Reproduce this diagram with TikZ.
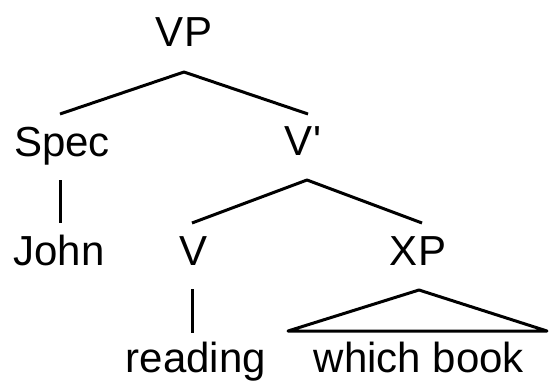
\documentclass[tikz,border=0pt]{standalone}
\usepackage{fontspec}
\setmainfont{Liberation Sans}
\begin{document}
\begin{tikzpicture}[x=1pt,y=-1pt,
  lbl/.style={inner sep=0pt,anchor=base,font=\fontsize{42}{50}\selectfont},
  edge/.style={line width=3pt,line cap=butt,line join=round}]
\useasboundingbox[fill=white] (0,0) rectangle (549,381);
% labels
\node[lbl] (VP) at (184,46) {VP};
\node[lbl] (Spec) at (62,156) {Spec};
\node[lbl] (Vbar) at (303,155) {V\textquotesingle};
\node[lbl] (John) at (59,265) {John};
\node[lbl] (V) at (194,265) {V};
\node[lbl] (XP) at (418,265) {XP};
\node[lbl] (reading) at (196,372) {reading};
\node[lbl] (wb) at (419,372) {which book};
% branch points
\coordinate (VPd) at (184,72);
\coordinate (Specu) at (60,114);
\coordinate (Vbaru) at (308,114);
\coordinate (Specd) at (60,180);
\coordinate (Johnu) at (60,223);
\coordinate (Vbard) at (307,180);
\coordinate (Vu) at (192,223);
\coordinate (XPu) at (422,223);
\coordinate (Vd) at (192,289);
\coordinate (readu) at (192,333);
\coordinate (XPd) at (419,290);
\coordinate (triL) at (288,331);
\coordinate (triR) at (547,331);
% connectors
\draw[edge] (Specu) -- (VPd) -- (Vbaru);
\draw[edge] (Specd) -- (Johnu);
\draw[edge] (Vu) -- (Vbard) -- (XPu);
\draw[edge] (Vd) -- (readu);
\draw[edge] (XPd) -- (triL) -- (triR) -- cycle;
\end{tikzpicture}
\end{document}
